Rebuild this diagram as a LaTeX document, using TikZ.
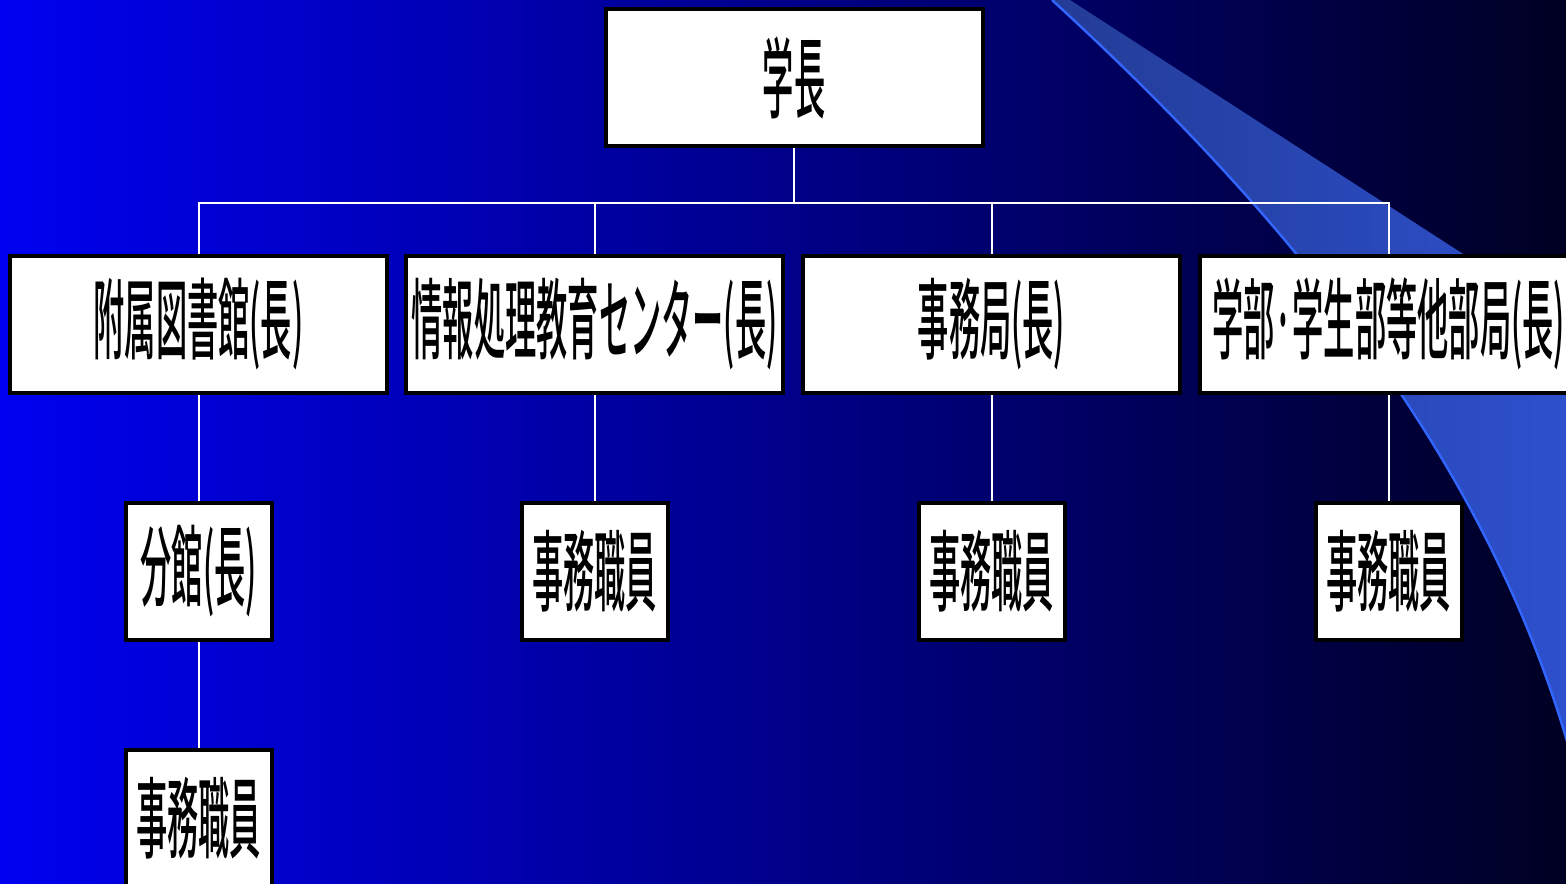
\documentclass[tikz,border=0pt]{standalone}
\usepackage{fontspec}
\newfontfamily\jpfont[FakeStretch=0.355]{Noto Sans CJK JP Medium}
\usetikzlibrary{backgrounds}

\definecolor{bgleft}{RGB}{0,0,240}
\definecolor{bgmid}{RGB}{0,0,140}
\definecolor{bgright}{RGB}{0,0,35}
\definecolor{swleft}{RGB}{35,60,150}
\definecolor{swright}{RGB}{48,85,220}
\definecolor{swline}{RGB}{51,102,255}

\tikzset{
    unit/.style={draw=black, line width=2pt, fill=white, inner sep=0pt,
        minimum height=68.5pt, font=\jpfont\fontsize{44}{44}\selectfont},
    wideunit/.style={unit, minimum width=188.5pt},
    smallunit/.style={unit, minimum width=73pt},
    link/.style={draw=white, line width=1pt},
}

\begin{document}
\begin{tikzpicture}[x=0.5pt, y=0.5pt]
    \useasboundingbox (0,0) rectangle (1566,-883);

    \node[wideunit] (head) at (794,-77.5) {学長};

    \node[wideunit] (lib)    at (198.5,-324)  {附属図書館(長)};
    \node[wideunit] (info)   at (594.5,-324)  {情報処理教育センター(長)};
    \node[wideunit] (office) at (991.5,-324)  {事務局(長)};
    \node[wideunit] (dept)   at (1388.5,-324) {学部·学生部等他部局(長)};

    \node[smallunit] (branch)      at (198.5,-571)  {分館(長)};
    \node[smallunit] (infostaff)   at (594.5,-571)  {事務職員};
    \node[smallunit] (officestaff) at (991.5,-571)  {事務職員};
    \node[smallunit] (deptstaff)   at (1388.5,-571) {事務職員};

    \node[smallunit] (branchstaff) at (198.5,-818) {事務職員};

    \begin{scope}[on background layer]
        % backdrop
        \shade[left color=bgleft, middle color=bgmid, right color=bgright]
            (0,0) rectangle (1566,-883);
        \begin{scope}
            \clip (0,0) rectangle (1566,-883);
            \shade[left color=swleft, right color=swright]
                (1052,0) .. controls (1270,-200) and (1500,-460) .. (1580,-790)
                -- (1700,-790) -- (1700,-407) -- (1070,0) -- cycle;
            \draw[swline, line width=1.2pt]
                (1052,0) .. controls (1270,-200) and (1500,-460) .. (1580,-790);
        \end{scope}

        % tree
        \draw[link] (head.south) -- ++(0,-55) coordinate (bus);
        \draw[link] (lib.north) |- (bus) -| (dept.north);
        \foreach \n in {info,office}
            \draw[link] (\n.north) -- (\n.north |- bus);
        \foreach \a/\b in {lib/branch,branch/branchstaff,info/infostaff,office/officestaff,dept/deptstaff}
            \draw[link] (\a.south) -- (\b.north);
    \end{scope}
\end{tikzpicture}
\end{document}
